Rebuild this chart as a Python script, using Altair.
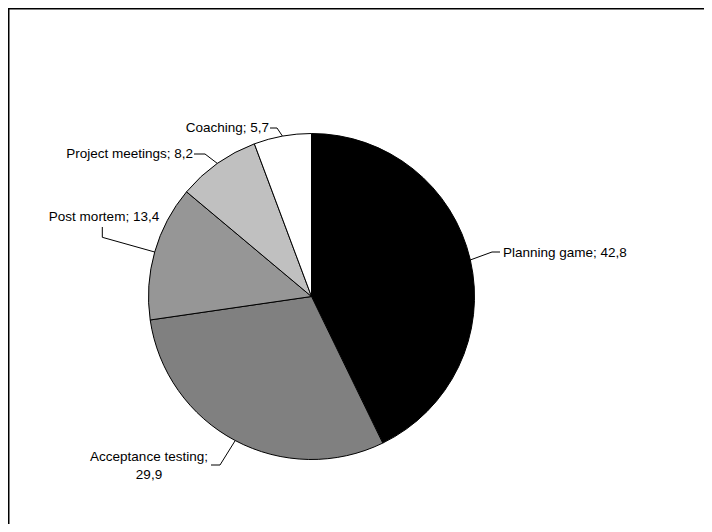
import altair as alt
import pandas as pd
import numpy as np

# ---- data ----
categories = ["Planning game", "Acceptance testing", "Post mortem", "Project meetings", "Coaching"]
values = [42.8, 29.9, 13.4, 8.2, 5.7]
colors = ["#000000", "#808080", "#969696", "#c0c0c0", "#ffffff"]

# ---- layout (chart pixel coordinates) ----
W, H = 696, 516
CX, CY, R = 303.5, 288.5, 163
FONT = "Liberation Sans"
FS = 13.5

# label anchor (x, y), alignment, and leader elbow points
label_layout = {
    "Planning game":      dict(x=495, y=245, align="left",   elbow=[(492, 244), (484, 244)]),
    "Acceptance testing": dict(x=141, y=449, align="center", elbow=[(203, 457), (212, 457)]),
    "Post mortem":        dict(x=96,  y=209, align="center", elbow=[(94.3, 219), (94.3, 229.3)]),
    "Project meetings":   dict(x=185, y=146, align="right",  elbow=[(186, 146), (197, 146)]),
    "Coaching":           dict(x=261, y=120, align="right",  elbow=[(262, 120), (269, 120)]),
}
LINE_H = 18

pie_df = pd.DataFrame({"category": categories, "value": values, "idx": range(len(values))})

total = float(sum(values))
cum = np.cumsum([0.0] + values[:-1])

line_rows, text_rows = [], []
for i, (c, v) in enumerate(zip(categories, values)):
    theta = 2 * np.pi * (cum[i] + v / 2) / total
    ex, ey = CX + R * np.sin(theta), CY - R * np.cos(theta)
    lay = label_layout[c]
    pts = lay["elbow"] + [(ex, ey)]
    for s, (px, py) in enumerate(pts):
        line_rows.append({"category": c, "seq": s, "px": px, "py": py})
    val = f"{v:.1f}".replace(".", ",")
    lines = [f"{c};", val] if c == "Acceptance testing" else [f"{c}; {val}"]
    for k, t in enumerate(lines):
        text_rows.append({"category": c, "text": t, "px": lay["x"], "py": lay["y"] + k * LINE_H,
                          "align": lay["align"]})

line_df = pd.DataFrame(line_rows)
text_df = pd.DataFrame(text_rows)

xs = alt.Scale(domain=[0, W], range=[0, W], nice=False, zero=False)
ys = alt.Scale(domain=[0, H], range=[0, H], nice=False, zero=False)

pie = alt.Chart(pie_df).mark_arc(radius=R, stroke="black", strokeWidth=1).encode(
    theta=alt.Theta("value:Q", stack=True),
    order=alt.Order("idx:Q", sort="ascending"),
    color=alt.Color("category:N", scale=alt.Scale(domain=categories, range=colors), legend=None),
    x=alt.value(CX),
    y=alt.value(CY),
)

leaders = alt.Chart(line_df).mark_line(color="black", strokeWidth=1).encode(
    x=alt.X("px:Q", scale=xs, axis=None),
    y=alt.Y("py:Q", scale=ys, axis=None),
    detail="category:N",
    order="seq:Q",
)

def text_layer(align):
    return alt.Chart(text_df[text_df["align"] == align]).mark_text(
        align=align, baseline="middle", font=FONT, fontSize=FS, color="black"
    ).encode(
        x=alt.X("px:Q", scale=xs, axis=None),
        y=alt.Y("py:Q", scale=ys, axis=None),
        text="text:N",
    )

frame_df = pd.DataFrame({"k": [0]})
top_rule = alt.Chart(frame_df).mark_rule(color="black", strokeWidth=1.5).encode(
    x=alt.value(0), x2=alt.value(W), y=alt.value(0.75)
)
left_rule = alt.Chart(frame_df).mark_rule(color="black", strokeWidth=1.5).encode(
    x=alt.value(0.75), y=alt.value(0), y2=alt.value(H)
)

chart = alt.layer(
    pie, leaders, text_layer("left"), text_layer("center"), text_layer("right"), top_rule, left_rule
).properties(
    width=W, height=H, autosize=alt.AutoSizeParams(type="none"), padding=0, background="white"
).configure_view(stroke=None)

chart.save("out.html", embed_options={"renderer": "svg", "actions": False})
